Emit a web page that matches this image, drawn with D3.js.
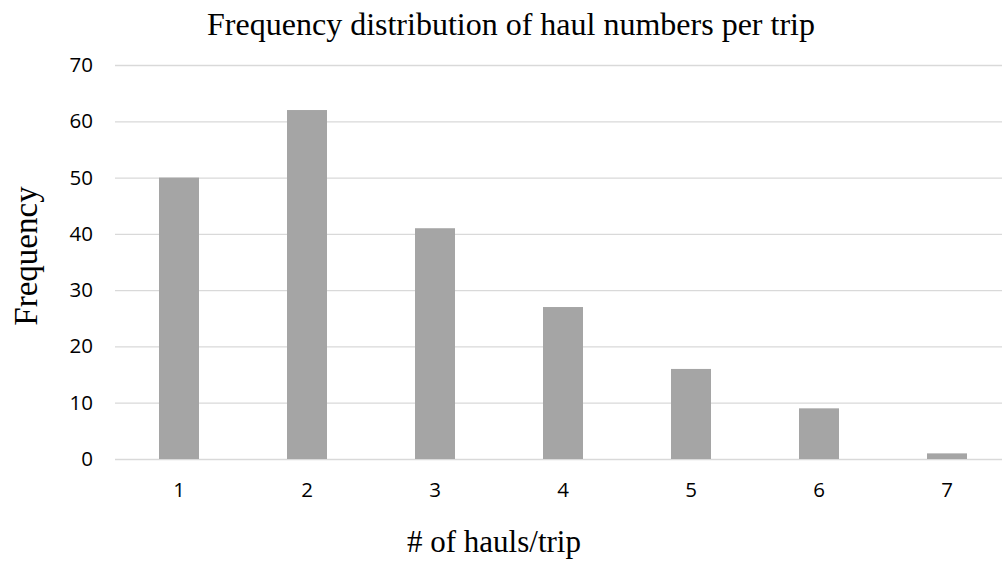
<!DOCTYPE html>
<html>
<head>
<meta charset="utf-8">
<script src="https://cdn.jsdelivr.net/npm/d3@7"></script>
<style>
  html, body { margin: 0; padding: 0; background: #ffffff; }
  svg { display: block; }
</style>
</head>
<body>
<svg id="chart" width="1002" height="561"></svg>
<script>
// Haul counts per trip and how many trips had each count
const haulCounts = ["1", "2", "3", "4", "5", "6", "7"];
const frequencies = [50, 62, 41, 27, 16, 9, 1];
const yTicks = [0, 10, 20, 30, 40, 50, 60, 70];

const titleText = "Frequency distribution of haul numbers per trip";
const xTitle = "# of hauls/trip";
const yTitle = "Frequency";

const svg = d3.select("#chart");
const plot = { left: 115, right: 1011, top: 65, bottom: 459 };

const x = d3.scaleBand()
  .domain(haulCounts)
  .range([plot.left, plot.right])
  .paddingInner(0.6875)
  .paddingOuter(0.34375);

const y = d3.scaleLinear()
  .domain([0, 70])
  .range([plot.bottom, plot.top]);

const tickFont = "'Open Sans', 'Noto Sans', sans-serif";
const serif = "'Liberation Serif', 'Times New Roman', serif";

// Horizontal gridlines with value labels
const yAxis = d3.axisLeft(y)
  .tickValues(yTicks)
  .tickSize(-(plot.right - plot.left))
  .tickPadding(22)
  .tickFormat(d3.format("d"));

const gy = svg.append("g")
  .attr("transform", `translate(${plot.left},0)`)
  .call(yAxis);
gy.select(".domain").remove();
gy.selectAll(".tick line")
  .attr("stroke", "#d9d9d9")
  .attr("stroke-width", 1.3);
gy.selectAll(".tick text")
  .attr("fill", "#000")
  .style("font-family", tickFont)
  .style("font-size", "20.5px");

// Bars
svg.append("g")
  .selectAll("rect")
  .data(frequencies)
  .join("rect")
  .attr("x", (d, i) => x(haulCounts[i]))
  .attr("y", d => y(d))
  .attr("width", x.bandwidth())
  .attr("height", d => y(0) - y(d))
  .attr("fill", "#a5a5a5");

// Category labels below the baseline
const xAxis = d3.axisBottom(x).tickSize(0).tickPadding(23);
const gx = svg.append("g")
  .attr("transform", `translate(0,${plot.bottom})`)
  .call(xAxis);
gx.select(".domain").remove();
gx.selectAll(".tick text")
  .attr("fill", "#000")
  .style("font-family", tickFont)
  .style("font-size", "20.5px");

// Titles
svg.append("text")
  .attr("x", 511)
  .attr("y", 35)
  .attr("text-anchor", "middle")
  .style("font-family", serif)
  .style("font-size", "32px")
  .attr("fill", "#000")
  .text(titleText);

svg.append("text")
  .attr("x", 494)
  .attr("y", 552)
  .attr("text-anchor", "middle")
  .style("font-family", serif)
  .style("font-size", "31px")
  .attr("fill", "#000")
  .text(xTitle);

svg.append("text")
  .attr("transform", "translate(37,256) rotate(-90)")
  .attr("text-anchor", "middle")
  .style("font-family", serif)
  .style("font-size", "33px")
  .attr("fill", "#000")
  .text(yTitle);
</script>
</body>
</html>
